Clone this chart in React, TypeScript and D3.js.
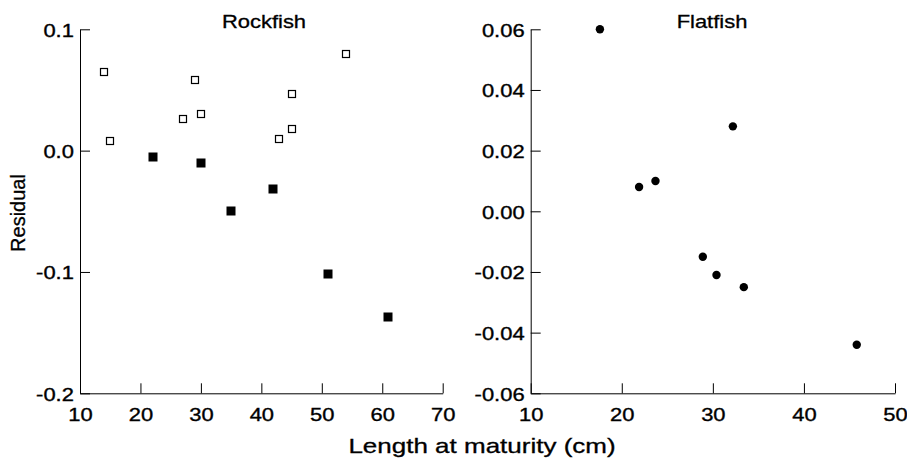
import React, { useEffect, useRef } from 'react';
import * as d3 from 'd3';

// Rockfish: open squares and filled squares
const rockOpenX = [14, 15, 27, 29, 30, 43, 45, 45, 54];
const rockOpenY = [0.065, 0.008, 0.026, 0.058, 0.030, 0.010, 0.047, 0.018, 0.080];
const rockFilledX = [22, 30, 35, 42, 51, 61];
const rockFilledY = [-0.005, -0.010, -0.050, -0.032, -0.102, -0.137];

// Flatfish: filled circles
const flatX = [17.6, 21.9, 23.7, 28.9, 30.4, 32.2, 33.4, 45.8];
const flatY = [0.060, 0.008, 0.010, -0.015, -0.021, 0.028, -0.025, -0.044];

const rockXTicks = [10, 20, 30, 40, 50, 60, 70];
const rockYTicks = [0.1, 0.0, -0.1, -0.2];
const rockYLabels = ['0.1', '0.0', '-0.1', '-0.2'];
const flatXTicks = [10, 20, 30, 40, 50];
const flatYTicks = [0.06, 0.04, 0.02, 0.0, -0.02, -0.04, -0.06];
const flatYLabels = ['0.06', '0.04', '0.02', '0.00', '-0.02', '-0.04', '-0.06'];

const WIDTH = 907;
const HEIGHT = 470;
const FONT = '"Liberation Sans", Arial, Helvetica, sans-serif';
const STRETCH = 1.22; // text in the original is horizontally stretched

export default function App() {
  const svgRef = useRef<SVGSVGElement>(null);

  useEffect(() => {
    if (!svgRef.current) return;
    const svg = d3.select(svgRef.current);
    svg.selectAll('*').remove();

    const top = 29.3;
    const bottom = 393.3;

    const drawAxes = (
      x: d3.ScaleLinear<number, number>,
      y: d3.ScaleLinear<number, number>,
      xTicks: number[],
      yTicks: number[],
      yLabels: string[]
    ) => {
      const gx = svg.append('g').attr('transform', `translate(0,${bottom})`).call(
        d3.axisBottom(x).tickValues(xTicks).tickSizeInner(-10).tickSizeOuter(0).tickPadding(0).tickFormat(d3.format('d'))
      );
      const gy = svg.append('g').attr('transform', `translate(${x.range()[0]},0)`).call(
        d3.axisLeft(y).tickValues(yTicks).tickSizeInner(-10).tickSizeOuter(0).tickPadding(5)
          .tickFormat((_, i) => yLabels[i])
      );
      [gx, gy].forEach(g => {
        g.selectAll('path, line').attr('stroke', '#000').attr('stroke-width', 1);
        g.selectAll('text')
          .attr('fill', '#000')
          .attr('stroke', '#000')
          .attr('stroke-width', 0.35)
          .attr('font-family', FONT)
          .attr('font-size', 18);
      });
      gx.selectAll('text').attr('y', 0).attr('dy', 0)
        .attr('transform', `translate(0,28) scale(${STRETCH},1)`);
      gy.selectAll('text').attr('dy', 0)
        .attr('transform', `translate(0,7) scale(${STRETCH},1)`);
    };

    const title = (text: string, cx: number) => {
      svg.append('text')
        .attr('transform', `translate(${cx},28) scale(${STRETCH},1)`)
        .attr('text-anchor', 'middle')
        .attr('font-family', FONT)
        .attr('font-size', 18)
        .attr('stroke', '#000')
        .attr('stroke-width', 0.3)
        .text(text);
    };

    // Rockfish panel
    const xr = d3.scaleLinear().domain([10, 70]).range([80, 442.7]);
    const yr = d3.scaleLinear().domain([-0.2, 0.1]).range([bottom, top]);
    drawAxes(xr, yr, rockXTicks, rockYTicks, rockYLabels);
    title('Rockfish', 264);

    svg.append('g').selectAll('rect')
      .data(d3.range(rockOpenX.length))
      .enter()
      .append('rect')
      .attr('x', i => Math.round(xr(rockOpenX[i])) - 3.5)
      .attr('y', i => Math.round(yr(rockOpenY[i])) - 3.5)
      .attr('width', 7)
      .attr('height', 7)
      .attr('fill', '#fff')
      .attr('stroke', '#000')
      .attr('stroke-width', 1.2);

    svg.append('g').selectAll('rect')
      .data(d3.range(rockFilledX.length))
      .enter()
      .append('rect')
      .attr('x', i => Math.round(xr(rockFilledX[i])) - 4.5)
      .attr('y', i => Math.round(yr(rockFilledY[i])) - 4.5)
      .attr('width', 9)
      .attr('height', 9)
      .attr('fill', '#000');

    // Flatfish panel
    const xf = d3.scaleLinear().domain([10, 50]).range([530.7, 895]);
    const yf = d3.scaleLinear().domain([-0.06, 0.06]).range([bottom, top]);
    drawAxes(xf, yf, flatXTicks, flatYTicks, flatYLabels);
    title('Flatfish', 712);

    svg.append('g').selectAll('circle')
      .data(d3.range(flatX.length))
      .enter()
      .append('circle')
      .attr('cx', i => xf(flatX[i]))
      .attr('cy', i => yf(flatY[i]))
      .attr('r', 4.2)
      .attr('fill', '#000');

    // Shared axis titles
    svg.append('text')
      .attr('transform', `translate(482,453) scale(1.3,1)`)
      .attr('text-anchor', 'middle')
      .attr('font-family', FONT)
      .attr('font-size', 20)
      .attr('stroke', '#000')
      .attr('stroke-width', 0.3)
      .text('Length at maturity (cm)');

    svg.append('text')
      .attr('transform', `translate(25,213) rotate(-90)`)
      .attr('text-anchor', 'middle')
      .attr('font-family', FONT)
      .attr('font-size', 20)
      .attr('stroke', '#000')
      .attr('stroke-width', 0.3)
      .text('Residual');
  }, []);

  return (
    <div style={{ position: 'absolute', left: 0, top: 0, background: '#fff' }}>
      <svg ref={svgRef} width={WIDTH} height={HEIGHT} style={{ display: 'block' }} />
    </div>
  );
}
